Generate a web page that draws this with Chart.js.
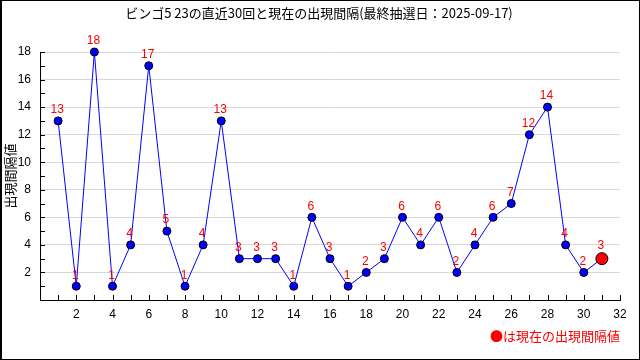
<!DOCTYPE html>
<html lang="ja">
<head>
<meta charset="UTF-8">
<title>ビンゴ5 23の出現間隔</title>
<script src="https://cdn.jsdelivr.net/npm/chart.js"></script>
<style>
    body { margin: 0; background: #fff; }
    #wrap { width: 640px; height: 360px; position: relative; }
</style>
</head>
<body>
<div id="wrap"><canvas id="chart"></canvas></div>
<script>
// 直近30回 + 現在 (x = 1..31)
const kaisu = [1,2,3,4,5,6,7,8,9,10,11,12,13,14,15,16,17,18,19,20,21,22,23,24,25,26,27,28,29,30,31];
const kankaku = [13,1,18,1,4,17,5,1,4,13,3,3,3,1,6,3,1,2,3,6,4,6,2,4,6,7,12,14,4,2,3];
const titleText = 'ビンゴ5 23の直近30回と現在の出現間隔(最終抽選日：2025-09-17)';
const yTitle = '出現間隔値';
const noteText = '●は現在の出現間隔値';

const last = kankaku.length - 1;
const points = kaisu.map((x, i) => ({ x: x, y: kankaku[i] }));

const jpFont = '"Noto Sans CJK JP", sans-serif';

// 目盛り(内向き)・ラベル・枠などを描く
const extras = {
    id: 'extras',
    afterDraw(chart) {
        const ctx = chart.ctx;
        const area = chart.chartArea;
        const xs = chart.scales.x, ys = chart.scales.y;
        ctx.save();
        // inward ticks
        ctx.strokeStyle = '#000';
        ctx.lineWidth = 1;
        ctx.beginPath();
        for (let v = 1; v <= 32; v++) {
            const px = Math.round(xs.getPixelForValue(v)) + 0.5;
            ctx.moveTo(px, area.bottom);
            ctx.lineTo(px, area.bottom - 5);
        }
        for (let v = 1; v <= 18; v++) {
            const py = Math.round(ys.getPixelForValue(v)) + 0.5;
            ctx.moveTo(area.left, py);
            ctx.lineTo(area.left + 5, py);
        }
        ctx.stroke();

        // data labels
        const meta = chart.getDatasetMeta(0);
        ctx.fillStyle = '#ff0000';
        ctx.font = '12px "Liberation Sans", sans-serif';
        ctx.textAlign = 'center';
        ctx.textBaseline = 'middle';
        meta.data.forEach((pt, i) => {
            const off = i === last ? 13 : 11;
            ctx.fillText(String(kankaku[i]), pt.x - 1, pt.y - off);
        });

        // title
        ctx.fillStyle = '#000';
        ctx.font = '13px ' + jpFont;
        ctx.fillText(titleText, 319, 13);

        // y axis title
        ctx.save();
        ctx.translate(10, (area.top + area.bottom) / 2);
        ctx.rotate(-Math.PI / 2);
        ctx.font = '13px ' + jpFont;
        ctx.fillText(yTitle, 0, 0);
        ctx.restore();

        // note
        ctx.fillStyle = '#ff0000';
        ctx.textAlign = 'right';
        ctx.font = '13px ' + jpFont;
        ctx.fillText(noteText, 620, 336);

        // frame
        ctx.strokeStyle = '#000';
        ctx.strokeRect(0.5, 0.5, 639, 359);
        ctx.beginPath();
        ctx.moveTo(1.5, 0);
        ctx.lineTo(1.5, 360);
        ctx.stroke();
        ctx.restore();
    }
};

new Chart(document.getElementById('chart'), {
    type: 'line',
    data: {
        datasets: [{
            data: points,
            borderColor: '#0000ff',
            borderWidth: 1,
            tension: 0,
            pointBackgroundColor: kankaku.map((v, i) => i === last ? '#ff0000' : '#0000ff'),
            pointBorderColor: '#000',
            pointBorderWidth: 1,
            pointRadius: kankaku.map((v, i) => i === last ? 6 : 4),
            clip: false
        }]
    },
    options: {
        responsive: true,
        maintainAspectRatio: false,
        animation: false,
        events: [],
        layout: { padding: { left: 0, right: 20, top: 52, bottom: 0 } },
        plugins: {
            legend: { display: false },
            tooltip: { enabled: false },
            title: { display: false }
        },
        scales: {
            x: {
                type: 'linear',
                min: 0,
                max: 32,
                afterFit(scale) { scale.height = 60; },
                grid: { drawOnChartArea: false, drawTicks: false },
                border: { display: true, color: '#000', width: 1 },
                ticks: {
                    stepSize: 1,
                    autoSkip: false,
                    maxRotation: 0,
                    padding: 7,
                    color: '#000',
                    font: { family: '"Liberation Sans", sans-serif', size: 12 },
                    callback: v => (v > 0 && v % 2 === 0) ? String(v) : ''
                }
            },
            y: {
                min: 0,
                max: 18,
                afterFit(scale) { scale.width = 40; },
                grid: {
                    drawTicks: false,
                    color: c => (c.tick && c.tick.value > 0 && c.tick.value % 2 === 0) ? '#d8d8d8' : 'rgba(0,0,0,0)'
                },
                border: { display: true, color: '#000', width: 1 },
                ticks: {
                    stepSize: 1,
                    autoSkip: false,
                    padding: 9,
                    color: '#000',
                    font: { family: '"Liberation Sans", sans-serif', size: 12 },
                    callback: v => (v > 0 && v % 2 === 0) ? String(v) : ''
                }
            }
        }
    },
    plugins: [extras]
});
</script>
</body>
</html>
